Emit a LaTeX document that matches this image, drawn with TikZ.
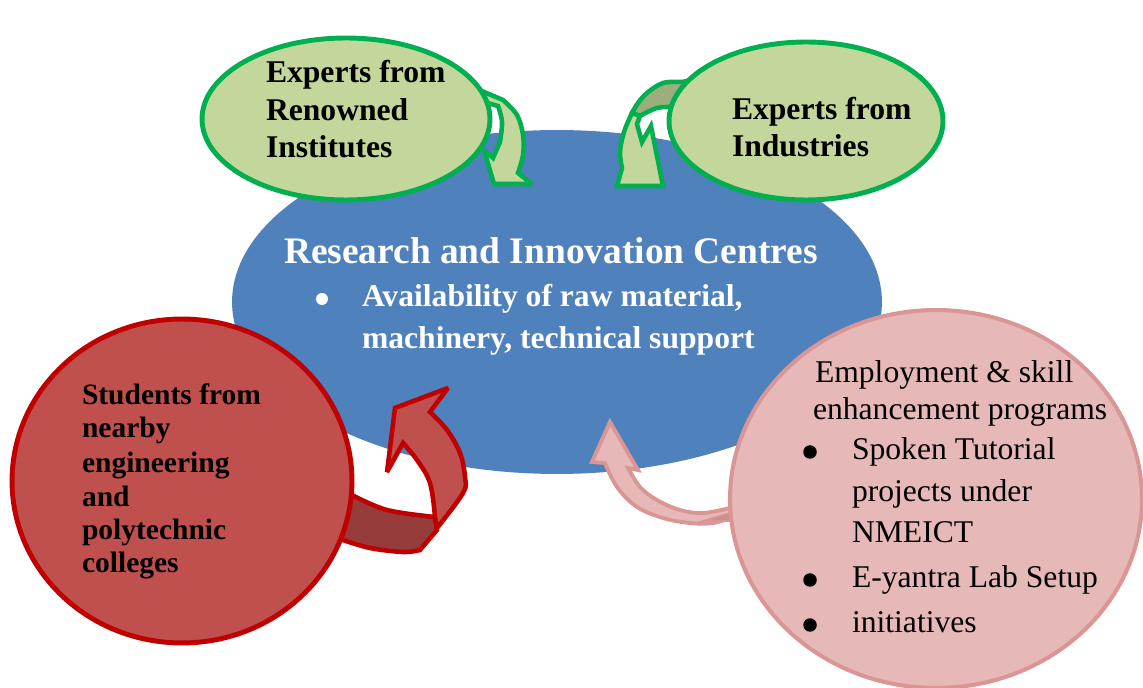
\documentclass[tikz,border=0pt]{standalone}
\usepackage{fontspec}
\setmainfont{Liberation Serif}
\usetikzlibrary{shapes.geometric}
\definecolor{blueC}{HTML}{4F81BD}
\definecolor{greenfill}{HTML}{C3D69B}
\definecolor{greenline}{HTML}{00B050}
\definecolor{greendark}{HTML}{9BAE7B}
\definecolor{redfill}{HTML}{C0504D}
\definecolor{redline}{HTML}{C00000}
\definecolor{reddark}{HTML}{963D3B}
\definecolor{pinkfill}{HTML}{E6B9B8}
\definecolor{pinkline}{HTML}{D99694}
\definecolor{pinkdark}{HTML}{C39392}
\begin{document}
\begin{tikzpicture}[x=0.02cm,y=-0.02cm,
  blob/.style={ellipse,inner sep=0,outer sep=0},
  gshape/.style={blob,draw=greenline,fill=greenfill,line width=2.8pt},
  garrow/.style={draw=greenline,fill=greenfill,line width=2.6pt,line join=miter,miter limit=3},
  gband/.style={garrow,fill=greendark},
  rarrow/.style={draw=redline,fill=redfill,line width=2.6pt,line join=miter,miter limit=3},
  rband/.style={rarrow,fill=reddark},
  parrow/.style={draw=pinkline,fill=pinkfill,line width=2.2pt,line join=miter,miter limit=3},
  txt/.style={anchor=base west,inner sep=0,outer sep=0},
  bt/.style={txt,font=\fontsize{18}{22}\selectfont\bfseries},
  st/.style={txt,font=\fontsize{16.8}{20}\selectfont\bfseries},
  pt/.style={txt,font=\fontsize{18}{22}\selectfont},
  bul/.style={circle,inner sep=0,outer sep=0,minimum size=0.27cm,fill=black},
]
\useasboundingbox (0,0) rectangle (1143,688);

% central ellipse
\node[blob,fill=blueC,minimum width=13cm,minimum height=6.88cm] (centre) at (557,302) {};

% green arrows
\draw[garrow] (484,92) -- plot[smooth,tension=0.6] coordinates {(503,100) (517,115) (523,135) (523,155) (518,173)}
  -- (532,184) -- (494,184) -- (484,150) -- (493,158)
  -- plot[smooth,tension=0.6] coordinates {(500,142) (502,122) (498,106)} -- (484,102) -- cycle;

\draw[gband] (692,80) -- plot[smooth,tension=0.6] coordinates {(682,82) (663,83) (647,93) (638,103) (632,113)}
  -- plot[smooth,tension=0.6] coordinates {(640,116) (657,108) (673,107)} -- (690,108) -- cycle;
\draw[garrow] (632,113) -- plot[smooth,tension=0.6] coordinates {(632,113) (624,132) (620,152) (622,168)}
  -- (617,186) -- (663,186) -- (651,126) -- (642,142) -- (637,124) -- (640,116) -- cycle;

% red arrow
\draw[rband] (336,488) -- plot[smooth,tension=0.6] coordinates {(352,495) (387,510) (435,517)}
  -- (437,530) -- plot[smooth,tension=0.6] coordinates {(420,550) (403,552) (370,548) (343,540)} -- (330,536) -- cycle;
\draw[rarrow] (435,517) -- plot[smooth,tension=0.6] coordinates {(435,517) (430,483) (417,460) (403,443)}
  -- (387,472) -- (395,408) -- (448,388) -- (430,412)
  -- plot[smooth,tension=0.6] coordinates {(430,412) (447,430) (460,453) (465,477) (463,493) (437,528)} -- cycle;

% pink arrow
\draw[parrow] (610,422) -- (638,470) -- (628,468)
  -- plot[smooth,tension=0.6] coordinates {(628,468) (640,487) (657,500) (680,510) (703,513) (730,508)} -- (748,505)
  -- (748,518) -- plot[smooth,tension=0.6] coordinates {(733,517) (713,523) (690,523) (663,518) (637,507) (617,487) (605,463)}
  -- (592,462) -- cycle;
\draw[pinkline,fill=pinkdark,line width=1pt] (703,521) -- (733,512) -- (733,521) -- cycle;

% satellite shapes
\node[gshape,minimum width=5.76cm,minimum height=3.24cm] (inst) at (346,119) {};
\node[gshape,minimum width=5.48cm,minimum height=3.16cm] (indu) at (806,121) {};
\node[blob,draw=redline,fill=redfill,line width=2.8pt,minimum width=6.8cm,minimum height=6.48cm] (stud) at (182,481) {};
\node[blob,draw=pinkline,fill=pinkfill,line width=2.3pt,minimum width=8.24cm,minimum height=7.56cm] (empl) at (936,499) {};

% texts: top-left
\node[bt] (t1a) at (266,83) {Experts from};
\node[bt] (t1b) at (266,121) {Renowned};
\node[bt] (t1c) at (266,158) {Institutes};
% top-right
\node[bt] (t2a) at (732,120) {Experts from};
\node[bt] (t2b) at (732,157) {Industries};
% centre
\node[txt,text=white,font=\fontsize{21.3}{25}\selectfont\bfseries] (c0) at (284,264) {Research and Innovation Centres};
\node[bul,fill=white,minimum size=0.24cm] (c1d) at (322,299) {};
\node[bt,text=white] (c1) at (362,307) {Availability of raw material,};
\node[bt,text=white] (c2) at (362,349) {machinery, technical support};
% red
\node[st] (s1) at (82,405) {Students from};
\node[st] (s2) at (82,438) {nearby};
\node[st] (s3) at (82,473) {engineering};
\node[st] (s4) at (82,507) {and};
\node[st] (s5) at (82,540) {polytechnic};
\node[st] (s6) at (82,573) {colleges};
% pink
\node[pt] (p1) at (815,383) {Employment \& skill};
\node[pt] (p2) at (813,420) {enhancement programs};
\node[bul] (pd1) at (810,452) {};
\node[pt] (p3) at (852,460) {Spoken Tutorial};
\node[pt] (p4) at (852,502) {projects under};
\node[pt] (p5) at (852,543) {NMEICT};
\node[bul] (pd2) at (810,580) {};
\node[pt] (p6) at (852,588) {E-yantra Lab Setup};
\node[bul] (pd3) at (810,625) {};
\node[pt] (p7) at (852,633) {initiatives};
\end{tikzpicture}
\end{document}
